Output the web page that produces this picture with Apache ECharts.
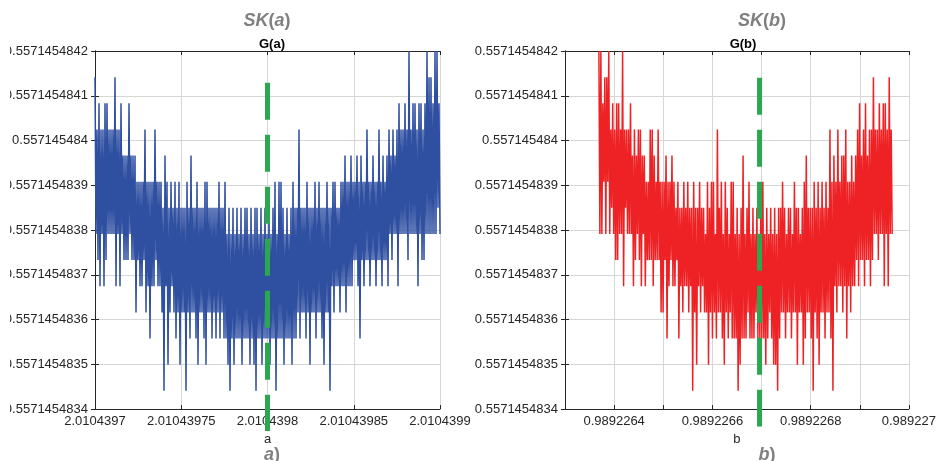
<!DOCTYPE html>
<html>
<head>
<meta charset="utf-8">
<script src="https://cdn.jsdelivr.net/npm/echarts@6/dist/echarts.min.js"></script>
<style>
  html, body { margin: 0; padding: 0; background: #fff; }
  #chart { width: 939px; height: 461px; }
</style>
</head>
<body>
<div id="chart"></div>
<script>
// y 축은 0.5571454834 기준, 1e-10 단위 오프셋으로 그린다 (부동소수 눈금 오차 회피)
const Y_LABELS = [
  "0.5571454834", "0.5571454835", "0.5571454836", "0.5571454837", "0.5571454838",
  "0.5571454839", "0.557145484", "0.5571454841", "0.5571454842",
];
// 데이터 값은 양자화된 레벨 (k) — 레벨 k 의 위치 = LEVEL0 + k * LEVEL_STEP (1e-10 단위)
const LEVEL0 = 0.407;
const LEVEL_STEP = 0.584;

// 왼쪽: x 축 0..4 = 2.0104397 .. 2.0104399 (5e-8 간격)
const XA_LABELS = ["2.0104397", "2.01043975", "2.0104398", "2.01043985", "2.0104399"];
const XA_RANGE = [0, 4];
// 오른쪽: x 축 0..7 = 0.9892263 .. 0.989227 (1e-7 간격, 라벨은 하나 걸러)
const XB_LABELS = ["", "0.9892264", "", "0.9892266", "", "0.9892268", "", "0.989227"];
const XB_RANGE = [0.69, 6.66];

// 기둥(2px)마다 위/아래 끝 레벨
const HI_A = [
  12,10,11,10,10,11,11,10,10,10, 12,10,10,11,9,9,9,11,9,9, 9,8,8,8,8,10,8,8,8,8,
  10,8,8,8,7,9,8,7,8,7, 8,7,8,7,7,7,8,7,9,7, 7,8,7,7,7,8,8,7,7,7,
  7,7,8,7,7,8,6,7,6,7, 6,7,6,7,6,7,7,6,7,6, 7,7,6,7,6,7,6,7,6,7,
  8,6,8,8,7,6,7,6,7,8, 7,7,10,7,7,7,8,7,7,7, 8,7,8,7,7,7,8,7,7,8,
  8,7,7,8,8,9,8,8,9,8, 8,9,8,9,8,8,10,8,8,9, 8,8,10,8,9,8,9,10,9,10,
  9,10,11,10,10,11,10,13,10,11, 11,10,11,11,10,11,13,12,12,11, 13,13,11,
];
const LO_A = [
  6,5,4,6,4,5,6,6,6,6, 4,6,4,6,5,5,5,6,5,5, 3,5,4,4,5,3,4,2,4,4,
  5,4,4,3,0,4,1,3,4,3, 2,3,1,3,3,0,3,2,3,3, 2,1,3,3,2,1,3,3,2,3,
  2,3,2,3,2,2,1,0,2,1, 2,2,2,1,2,2,2,1,2,1, 0,2,2,1,2,2,2,1,2,2,
  0,2,2,2,1,2,2,2,1,2, 2,3,2,3,3,2,3,1,3,3, 2,3,3,2,1,3,3,0,4,3,
  4,4,3,4,4,3,4,4,4,5, 5,4,2,5,4,5,5,4,5,5, 4,5,5,4,5,5,4,6,5,6,
  6,4,6,6,6,6,5,6,6,6, 6,4,6,5,5,6,6,6,6,6, 6,7,6,
];
const HI_B = [
  13,13,11,12,12,13,10,11,10,11, 11,10,13,10,10,10,11,9,10,9, 10,10,9,9,8,8,10,10,9,8,
  10,8,8,8,9,8,8,9,8,7, 8,7,7,8,7,8,7,7,8,7, 7,8,7,7,6,8,7,8,8,6,
  10,7,8,6,8,7,6,8,8,6, 7,6,7,9,6,7,8,6,7,6, 7,6,7,8,6,7,6,7,6,7,
  6,7,7,8,7,6,7,7,6,8, 7,7,6,7,8,9,7,7,7,8, 7,8,7,8,7,8,7,10,8,9,
  8,10,8,9,9,10,8,8,9,8, 9,10,11,9,10,11,9,10,10,12, 10,10,11,10,11,11,10,12,10,
];
const LO_B = [
  6,6,8,6,8,6,7,6,5,5, 6,6,4,7,6,6,6,4,5,6, 5,4,6,4,5,5,5,4,5,5,
  5,3,3,5,2,4,5,4,4,5, 2,4,3,4,4,3,4,0,3,1, 4,3,4,3,3,1,3,2,3,2,
  3,3,2,1,3,2,3,2,2,2, 0,1,2,2,2,3,2,2,2,3, 2,2,2,2,1,2,3,2,1,1,
  0,2,3,3,2,3,3,2,3,3, 1,3,3,1,2,3,3,2,0,3, 2,1,3,3,2,3,3,2,0,4,
  3,4,4,3,4,2,4,3,4,4, 5,4,5,5,4,5,5,4,5,6, 6,5,6,6,4,6,4,6,6,
];

// 초록 점선 기준선: [x, y위, y아래] (y 는 축 밖까지 이어짐)
const MARK_A = [2, 7.29, -0.49];
const MARK_B = [3.96, 7.40, -0.39];

const FONT = "'Liberation Sans', Arial, sans-serif";
const BLUE = "#2f4fa1";
const RED = "#ee2224";
const GREEN = "#2aa84f";
const GRID_COLOR = "#d6d6d6";

function level(k) {
  return LEVEL0 + k * LEVEL_STEP;
}

// hi, lo 를 번갈아 이어서 촘촘한 선으로 만든다
function zigzag(hi, lo, range) {
  const n = hi.length * 2;
  const step = (range[1] - range[0]) / (n - 1);
  const pts = [];
  hi.forEach((h, c) => {
    pts.push([range[0] + 2 * c * step, level(h)]);
    pts.push([range[0] + (2 * c + 1) * step, level(lo[c])]);
  });
  return pts;
}

function yAxes(gridIndex) {
  const base = {
    gridIndex, type: "value", min: 0, max: 8, interval: 1,
    axisLine: { show: true, lineStyle: { color: "#262626", width: 1 } },
    axisTick: { show: true, inside: true, length: 4, lineStyle: { color: "#262626" } },
  };
  return [
    { ...base, position: "left",
      axisLabel: { fontFamily: FONT, fontSize: 13, color: "#262626", margin: 7,
        showMinLabel: true, showMaxLabel: true,
        formatter: v => Y_LABELS[Math.round(v)] },
      splitLine: { show: true, lineStyle: { color: GRID_COLOR, width: 1 } } },
    { ...base, position: "right", axisLabel: { show: false }, splitLine: { show: false } },
  ];
}

function xAxes(gridIndex, max, labels, name) {
  const base = {
    gridIndex, type: "value", min: 0, max, interval: 1,
    axisLine: { show: true, onZero: false, lineStyle: { color: "#262626", width: 1 } },
    axisTick: { show: true, inside: true, length: 4, lineStyle: { color: "#262626" } },
  };
  return [
    { ...base, position: "bottom",
      name, nameLocation: "middle", nameGap: 21,
      nameTextStyle: { fontFamily: FONT, fontSize: 13, color: "#262626" },
      axisLabel: { fontFamily: FONT, fontSize: 13, color: "#262626", margin: 6,
        showMinLabel: true, showMaxLabel: true, hideOverlap: false,
        formatter: v => labels[Math.round(v)] },
      splitLine: { show: true, lineStyle: { color: GRID_COLOR, width: 1 } } },
    { ...base, position: "top", axisLabel: { show: false }, splitLine: { show: false } },
  ];
}

function dataSeries(axisBase, hi, lo, range, color) {
  return {
    type: "line", xAxisIndex: axisBase, yAxisIndex: axisBase,
    data: zigzag(hi, lo, range),
    showSymbol: false, symbol: "none", sampling: null,
    lineStyle: { color, width: 1.5 }, z: 2,
  };
}

function markSeries(axisBase, mark) {
  return {
    type: "line", xAxisIndex: axisBase, yAxisIndex: axisBase,
    data: [[mark[0], mark[1]], [mark[0], mark[2]]],
    showSymbol: false, symbol: "none", clip: false,
    lineStyle: { color: GREEN, width: 5, type: [37, 15] }, z: 5,
  };
}

function bigTitle(main, arg, left) {
  return {
    text: `{i|${main}}{n|(}{i|${arg}}{n|)}`, left, top: 7, textAlign: "center",
    textStyle: { rich: {
      i: { fontFamily: FONT, fontSize: 18, fontWeight: "bold", fontStyle: "italic", color: "#7f7f7f" },
      n: { fontFamily: FONT, fontSize: 18, fontWeight: "bold", color: "#7f7f7f" },
    } },
  };
}

function capTitle(arg, left) {
  return {
    text: `{i|${arg}}{n|)}`, left, top: 441, textAlign: "center",
    textStyle: { rich: {
      i: { fontFamily: FONT, fontSize: 18, fontWeight: "bold", fontStyle: "italic", color: "#7f7f7f" },
      n: { fontFamily: FONT, fontSize: 18, fontWeight: "bold", color: "#7f7f7f" },
    } },
  };
}

function smallTitle(text, left) {
  return {
    text, left, top: 33, textAlign: "center",
    textStyle: { fontFamily: FONT, fontSize: 13, fontWeight: "bold", color: "#000" },
  };
}

const chart = echarts.init(document.getElementById("chart"), null, { renderer: "canvas" });
chart.setOption({
  animation: false,
  backgroundColor: "#fff",
  title: [
    bigTitle("SK", "a", 262), bigTitle("SK", "b", 757),
    smallTitle("G(a)", 267), smallTitle("G(b)", 738),
    capTitle("a", 267), capTitle("b", 762),
  ],
  grid: [
    { left: 95, right: 499, top: 51, bottom: 52 },
    { left: 565, right: 27, top: 51, bottom: 52 },
  ],
  xAxis: [
    ...xAxes(0, 4, XA_LABELS, "a"),
    ...xAxes(1, 7, XB_LABELS, "b"),
  ],
  yAxis: [...yAxes(0), ...yAxes(1)],
  series: [
    dataSeries(0, HI_A, LO_A, XA_RANGE, BLUE),
    markSeries(0, MARK_A),
    dataSeries(2, HI_B, LO_B, XB_RANGE, RED),
    markSeries(2, MARK_B),
  ],
  // 원본 그림은 왼쪽 끝이 잘려 있다
  graphic: [{ type: "rect", left: 0, top: 0, shape: { width: 10, height: 461 },
    style: { fill: "#fff" }, z: 100 }],
});
</script>
</body>
</html>
